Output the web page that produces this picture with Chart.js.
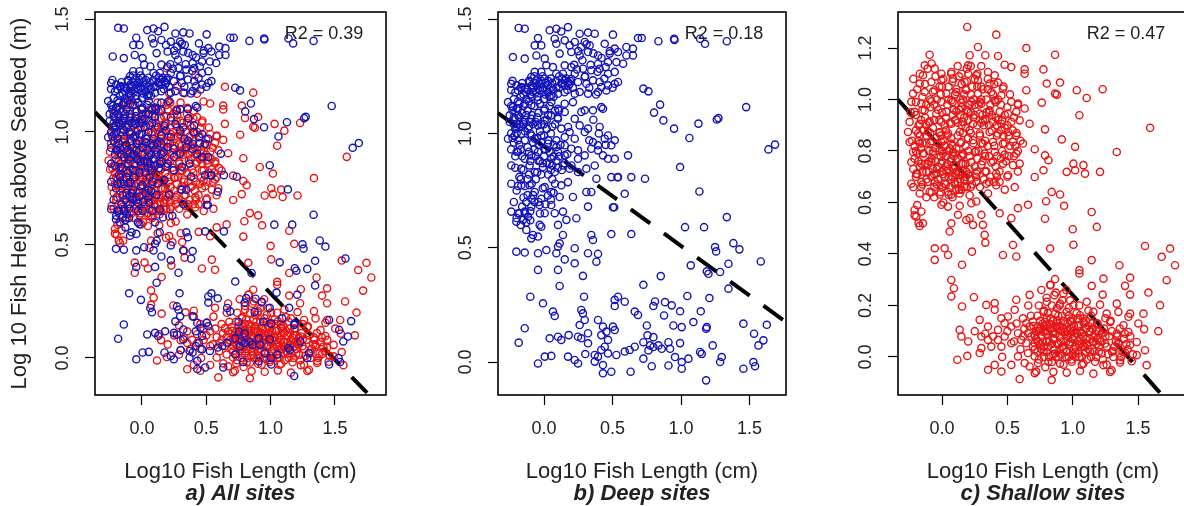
<!DOCTYPE html>
<html>
<head>
<meta charset="utf-8">
<script src="https://cdn.jsdelivr.net/npm/chart.js@4.4.1/dist/chart.umd.min.js"></script>
<style>
  html, body { margin: 0; padding: 0; background: #fff; }
  body { position: relative; width: 1184px; height: 506px; overflow: hidden; }
  .panel { position: absolute; top: 0; }
</style>
</head>
<body>
<canvas id="allChart" class="panel" width="400" height="506" style="left:0px"></canvas>
<canvas id="deepChart" class="panel" width="400" height="506" style="left:400px"></canvas>
<canvas id="shallowChart" class="panel" width="400" height="506" style="left:800px"></canvas>
<script>
// [log10 length, log10 height]
const deepSites = [
  [-0.185,1.461],[-0.141,1.458],[0.041,1.451],[0.09,1.458],[0.126,1.446],[0.175,1.465],[0.26,1.436],[0.321,1.441],[0.37,1.436],[0.503,1.432],[0.686,1.417],
  [-0.044,1.417],[0.078,1.414],[0.151,1.407],[0.224,1.40],[0.297,1.40],[-0.068,1.385],[-0.02,1.385],[0.09,1.392],[0.187,1.385],[0.272,1.378],[0.333,1.385],[0.443,1.392],[0.516,1.371],[0.601,1.378],[0.649,1.371],
  [-0.227,1.334],[-0.141,1.327],[-0.056,1.341],[0.005,1.327],[0.114,1.349],[0.199,1.356],[0.26,1.341],[0.321,1.356],[0.394,1.341],[0.479,1.349],[0.54,1.356],[0.601,1.341],[0.649,1.341],[0.577,1.305],[0.394,1.305],[0.467,1.312],[0.528,1.312],
  [0.017,1.298],[0.065,1.29],[0.151,1.298],[0.199,1.29],[0.284,1.283],[0.345,1.276],[0.406,1.283],[0.467,1.261],[0.516,1.269],[0.297,1.247],[0.224,1.261],[0.138,1.261],[0.09,1.261],[-0.068,1.269],[-0.02,1.269],[-0.093,1.247],
  [-0.105,1.225],[-0.056,1.232],[-0.032,1.217],[0.005,1.239],[-0.044,1.196],[-0.008,1.188],[0.029,1.21],[-0.081,1.181],[-0.129,1.196],[-0.166,1.203],[-0.19,1.188],[-0.239,1.217],[0.151,1.232],[0.175,1.225],[0.199,1.239],[0.187,1.217],[0.126,1.217],
  [0.248,1.225],[0.309,1.217],[0.357,1.232],[0.406,1.225],[0.467,1.21],[0.516,1.217],[0.54,1.225],[0.26,1.181],[0.321,1.174],[0.418,1.203],[0.455,1.188],[0.394,1.181],[0.102,1.174],[0.053,1.166],[0.224,1.174],
  [-0.263,1.137],[-0.227,1.115],[-0.19,1.108],[-0.141,1.13],[-0.093,1.123],[-0.044,1.145],[0.005,1.108],[0.053,1.137],[0.102,1.108],[0.151,1.13],[0.211,1.137],[0.297,1.101],[0.357,1.101],[0.418,1.115],[0.43,1.108],[0.272,1.094],
  [-0.251,1.079],[-0.214,1.064],[-0.153,1.05],[-0.093,1.064],[-0.044,1.035],[0.005,1.057],[0.053,1.079],[0.102,1.064],[0.151,1.094],[0.224,1.064],[0.26,1.035],[0.321,1.021],[0.406,1.028],[0.175,1.028],[0.126,1.021],[-0.202,1.028],[-0.117,1.021],
  [-0.263,0.977],[-0.214,0.991],[-0.166,0.999],[-0.068,0.977],[-0.02,0.991],[0.029,0.955],[0.09,0.97],[0.151,0.984],[0.187,1.006],[0.224,0.977],[0.297,1.006],[0.357,0.962],[0.394,0.948],[0.443,0.977],[0.467,0.991],[0.516,0.97],[0.491,0.948],
  [-0.19,0.919],[-0.141,0.889],[-0.093,0.904],[-0.044,0.919],[0.005,0.933],[0.053,0.889],[0.102,0.919],[0.151,0.904],[0.199,0.933],[0.248,0.889],[0.297,0.904],[0.345,0.933],[0.394,0.926],[0.43,0.904],[0.467,0.889],[0.516,0.889],[0.613,0.904],[0.248,0.926],[0.151,0.948],
  [-0.239,0.86],[-0.166,0.846],[-0.105,0.86],[-0.068,0.831],[-0.008,0.853],[0.041,0.868],[0.078,0.831],[0.138,0.86],[0.187,0.846],[0.248,0.831],[0.309,0.846],[0.37,0.86],[0.382,0.802],[0.491,0.809],[0.54,0.809],[0.637,0.809],
  [-0.239,0.78],[-0.166,0.773],[-0.105,0.773],[-0.068,0.744],[0.005,0.765],[0.053,0.744],[0.126,0.773],[0.175,0.787],[-0.093,0.714],[-0.02,0.714],[0.029,0.729],[0.114,0.722],[0.211,0.722],[0.309,0.744],[0.345,0.744],[0.589,0.736],[0.536,0.808],[0.512,0.677],
  [-0.12,1.19],[-0.09,1.21],[-0.06,1.18],[-0.02,1.23],[0.02,1.19],[0.06,1.22],[-0.15,1.17],[-0.17,1.16],[0.0,1.15],[0.04,1.16],[0.16,1.24],[0.18,1.21],[-0.22,1.07],[-0.18,1.04],[-0.2,1.0],[-0.14,1.01],[-0.1,1.05],[-0.05,0.98],[0.0,0.99],[0.02,1.02],[-0.03,0.88],[0.02,0.87],[0.07,0.9],[0.1,0.85],[0.12,0.95],[-0.12,0.8],[-0.15,0.72],[-0.18,0.65],[-0.13,0.61],[-0.1,0.66],[0.06,0.8],[0.08,0.78],[-0.2,0.92],[-0.24,1.0],
  [-0.24,1.19],[-0.22,1.15],[-0.2,1.21],[-0.18,1.13],[-0.16,1.22],[-0.14,1.2],[-0.13,1.15],[-0.11,1.23],[-0.1,1.17],[-0.08,1.2],[-0.07,1.25],[-0.05,1.21],[-0.03,1.19],[-0.01,1.25],[0.01,1.22],[0.03,1.18],[0.05,1.24],[0.07,1.19],[0.09,1.23],[0.11,1.2],[0.13,1.24],[0.15,1.21],[0.17,1.19],[0.19,1.23],[0.21,1.2],
  [-0.25,1.05],[-0.23,1.1],[-0.21,1.02],[-0.19,1.08],[-0.17,1.03],[-0.16,1.09],[-0.14,1.06],[-0.12,1.1],[-0.11,1.03],[-0.09,1.08],[-0.07,1.12],[-0.06,1.05],[-0.04,1.09],[-0.02,1.04],[0.0,1.1],[0.02,1.06],[0.04,1.12],[0.06,1.03],[0.08,1.1],[0.1,1.07],
  [-0.24,0.93],[-0.22,0.96],[-0.18,0.95],[-0.16,0.9],[-0.12,0.94],[-0.1,0.88],[-0.08,0.96],[-0.06,0.9],[-0.04,0.95],[-0.01,0.87],[0.01,0.93],[0.03,0.97],[0.05,0.84],[0.07,0.95],[0.09,0.88],[0.11,0.9],[0.13,0.84],[0.15,0.87],[0.17,0.91],[0.2,0.86],
  [-0.22,0.7],[-0.2,0.75],[-0.18,0.81],[-0.16,0.68],[-0.14,0.77],[-0.12,0.73],[-0.1,0.62],[-0.09,0.78],[-0.07,0.7],[-0.05,0.83],[-0.03,0.65],[-0.01,0.76],[0.01,0.69],[0.03,0.82],[0.05,0.71],[0.07,0.74],
  [-0.23,1.23],[-0.21,1.18],[-0.19,1.14],[-0.17,1.2],[-0.15,1.12],[-0.13,1.18],[-0.11,1.14],[-0.09,1.16],[-0.07,1.22],[-0.05,1.16],[-0.03,1.13],[-0.01,1.2],[0.01,1.17],[0.03,1.23],[0.05,1.2],[0.07,1.16],[0.09,1.2],[0.11,1.25],[0.13,1.22],[0.15,1.18],
  [-0.24,1.12],[-0.22,1.04],[-0.2,1.11],[-0.18,1.07],[-0.15,1.04],[-0.13,1.08],[-0.1,1.0],[-0.08,1.04],[-0.05,1.07],[-0.03,1.01],[0.0,1.04],[0.03,1.08],[0.05,1.0],[0.08,1.04],[0.11,1.1],
  [-0.23,0.98],[-0.21,0.9],[-0.19,0.97],[-0.17,0.93],[-0.14,0.97],[-0.11,0.92],[-0.09,0.99],[-0.07,0.93],[-0.04,0.88],[-0.02,0.96],[0.0,0.9],[0.04,0.92],[0.06,0.86],[0.09,0.94],
  [-0.21,0.85],[-0.19,0.77],[-0.17,0.8],[-0.15,0.84],[-0.13,0.7],[-0.11,0.82],[-0.08,0.73],[-0.06,0.8],[-0.04,0.7],[-0.02,0.82],[-0.2,0.63],[-0.17,0.6],[-0.14,0.65],
  [0.22,1.3],[0.25,1.36],[0.28,1.32],[0.31,1.39],[0.34,1.3],[0.36,1.35],[0.39,1.27],[0.42,1.33],[0.45,1.29],[0.48,1.36],[0.3,1.25],[0.24,1.28],[0.33,1.2],[0.38,1.17],[0.44,1.24],[0.5,1.2],[0.36,1.06],[0.4,1.0],[0.45,0.95],[0.33,0.97],
  [-0.239,0.658],[-0.19,0.651],[-0.141,0.658],[-0.153,0.622],[-0.202,0.614],[-0.117,0.636],[-0.093,0.68],[-0.032,0.687],[0.005,0.651],[-0.032,0.60],[0.053,0.687],[0.078,0.651],[0.138,0.658],[0.163,0.622],[0.236,0.629],[0.102,0.60],[-0.129,0.578],[-0.081,0.556],[-0.02,0.592],[-0.044,0.549],[-0.093,0.541],[0.321,0.68],[0.503,0.677],
  [0.345,0.556],[0.357,0.534],[0.491,0.56],[0.637,0.56],[0.138,0.556],[0.114,0.519],[0.102,0.505],[0.224,0.498],[0.321,0.476],[0.394,0.473],[0.382,0.439],
  [-0.202,0.483],[-0.141,0.479],[-0.044,0.476],[0.017,0.49],[0.09,0.476],[0.151,0.449],[0.224,0.432],[0.284,0.377],[-0.044,0.403],[0.102,0.403],[0.114,0.333],[0.292,0.286],
  [-0.10,0.286],[-0.008,0.257],[0.065,0.221],[0.078,0.202],[0.272,0.228],[0.284,0.213],[0.516,0.272],[0.54,0.286],[0.589,0.264],[0.516,0.245],[0.662,0.221],[0.686,0.206],
  [-0.141,0.148],[-0.185,0.085],[0.041,0.104],[0.102,0.111],[0.126,0.097],[0.18,0.118],[0.248,0.111],[0.272,0.104],[0.321,0.126],[0.321,0.082],[0.26,0.162],[0.297,0.184],[0.394,0.184],[0.43,0.155],[0.455,0.133],[0.503,0.155],[0.516,0.14],[0.418,0.118],[0.467,0.097],
  [-0.044,-0.006],[0.005,0.024],[0.053,0.027],[0.175,0.024],[0.224,0.009],[0.248,-0.006],[0.301,0.035],[0.37,0.031],[0.37,0.002],[0.394,0.024],[0.418,0.053],[0.443,0.067],[0.467,0.038],[0.528,0.031],[0.589,0.046],[0.625,0.053],[0.662,0.067],[0.43,-0.013],[0.491,-0.042],[0.43,-0.049],[0.632,-0.042],
  [0.713,1.417],[0.835,1.403],[0.949,1.414],[0.952,1.409],[1.139,1.414],[1.175,1.392],[1.334,1.403],
  [0.725,1.196],[0.762,1.184],
  [0.847,1.126],[0.803,1.091],[0.871,1.057],[0.949,1.021],[1.061,0.98],[1.127,1.043],[1.261,1.061],[1.273,1.067],[1.475,1.115],
  [1.638,0.93],[1.686,0.951],
  [0.737,0.802],[0.993,0.853],[1.134,0.746],
  [1.334,0.634],[1.029,0.59],[1.168,0.59],
  [1.248,0.503],[1.256,0.484],[1.382,0.52],[1.426,0.493],[1.346,0.43],[1.285,0.394],[1.188,0.397],[1.071,0.423],[1.2,0.386],[1.582,0.44],[0.852,0.376],
  [0.725,0.338],[1.207,0.28],[1.046,0.289],[1.346,0.321],
  [0.81,0.265],[0.883,0.262],[0.932,0.248],[0.798,0.245],[0.993,0.222],[1.144,0.222],[0.876,0.204],[1.09,0.175],[0.944,0.16],[1.005,0.153],[1.188,0.153],[1.183,0.146],[0.75,0.16],[1.455,0.168],[1.626,0.163],
  [0.755,0.117],[0.798,0.109],[0.725,0.087],[0.774,0.073],[0.798,0.066],[0.835,0.073],[0.859,0.058],[0.908,0.087],[0.92,0.058],[0.993,0.083],[0.762,0.051],[1.139,0.044],[1.151,0.036],[1.231,0.073],[1.533,0.124],[1.565,0.073],[1.601,0.095],[1.297,0.022],[1.285,0.0],[0.725,0.015],[0.786,-0.018],[0.908,-0.015],[0.956,0.022],[1.005,0.0],[1.054,0.015],[1.005,-0.029],[1.455,-0.029],[1.528,0.0],[1.54,-0.018],[1.183,-0.08]
];

// [log10 length, log10 height]
const shallowSites = [
  [0.193,1.282],[0.415,1.252],[0.645,1.2],[0.275,1.204],[0.331,1.172],[0.211,1.172],[0.428,1.169],[0.479,1.135],[0.53,1.126],[0.632,1.117],[0.632,1.1],[-0.095,1.174],[-0.133,1.133],[-0.056,1.12],[-0.146,1.094],[-0.005,1.1],[0.071,1.107],[0.148,1.1],[0.199,1.133],[0.262,1.094],[0.352,1.107],[0.403,1.094],[0.428,1.066],[0.466,1.042],[0.645,1.036],
  [-0.171,1.062],[-0.082,1.068],[-0.005,1.075],[0.084,1.081],[0.173,1.068],[0.275,1.075],[0.364,1.062],
  [-0.222,1.023],[-0.133,1.029],[-0.056,1.036],[0.033,1.023],[0.109,1.029],[0.186,1.036],[0.275,1.023],[0.377,1.029],[0.454,1.016],
  [-0.235,0.991],[-0.158,0.984],[-0.082,0.993],[-0.005,0.991],[0.071,0.997],[0.148,0.988],[0.224,0.991],[0.301,0.984],[0.403,0.997],[0.53,0.991],[0.581,0.984],
  [-0.21,0.952],[-0.133,0.958],[-0.044,0.945],[0.033,0.952],[0.109,0.954],[0.199,0.952],[0.288,0.945],[0.364,0.958],[0.441,0.952],[0.505,0.945],[0.568,0.952],[0.632,0.965],
  [-0.248,0.913],[-0.171,0.906],[-0.095,0.915],[-0.005,0.913],[0.071,0.906],[0.16,0.913],[0.237,0.906],[0.313,0.919],[0.39,0.913],[0.454,0.906],[0.53,0.913],[0.594,0.919],[0.67,0.906],
  [-0.26,0.874],[-0.184,0.868],[-0.107,0.877],[-0.018,0.874],[0.046,0.868],[0.135,0.874],[0.211,0.88],[0.288,0.868],[0.364,0.874],[0.428,0.868],[0.505,0.874],[0.568,0.861],
  [-0.248,0.835],[-0.171,0.829],[-0.082,0.838],[-0.005,0.833],[0.071,0.829],[0.148,0.835],[0.237,0.842],[0.313,0.829],[0.39,0.835],[0.466,0.829],[0.543,0.835],[0.619,0.829],[0.709,0.807],
  [-0.222,0.796],[-0.146,0.79],[-0.069,0.799],[0.007,0.79],[0.084,0.796],[0.16,0.786],[0.25,0.796],[0.326,0.79],[0.403,0.796],[0.479,0.786],[0.568,0.79],[0.594,0.751],
  [-0.235,0.757],[-0.158,0.751],[-0.082,0.757],[-0.005,0.751],[0.071,0.76],[0.148,0.751],[0.224,0.757],[0.301,0.747],[0.377,0.755],[0.466,0.751],[0.543,0.745],
  [-0.197,0.712],[-0.12,0.719],[-0.044,0.712],[0.033,0.721],[0.109,0.712],[0.186,0.719],[0.262,0.712],[0.339,0.721],[0.415,0.712],[0.505,0.706],
  [-0.235,0.673],[-0.158,0.68],[-0.056,0.68],[0.02,0.673],[0.097,0.68],[0.173,0.686],[0.262,0.68],[0.339,0.673],[0.415,0.667],[0.556,0.66],[0.709,0.699],
  [-0.171,0.635],[-0.095,0.641],[-0.018,0.631],[0.046,0.641],[0.135,0.635],[0.211,0.628],[0.352,0.635],
  [-0.1,0.8],[-0.05,0.76],[0.0,0.72],[0.05,0.7],[0.1,0.74],[-0.12,0.86],[-0.02,0.87],[0.08,0.82],[0.15,0.78],[0.18,0.7],[-0.15,0.72],[-0.2,0.8],[0.03,0.78],[-0.07,0.73],[0.12,0.68],[0.2,0.85],[0.25,0.74],[0.28,0.8],[0.35,0.82],[0.32,0.9],[0.42,0.78],[0.45,0.88],[0.22,0.95],[0.1,0.92],[0.0,0.95],[-0.18,0.9],[0.05,1.05],[0.15,1.06],[0.2,1.1],[0.3,1.05],
  [-0.23,0.84],[-0.21,0.77],[-0.19,0.71],[-0.17,0.86],[-0.16,0.66],[-0.14,0.79],[-0.13,0.93],[-0.12,0.69],[-0.11,0.75],[-0.09,0.83],[-0.08,0.64],[-0.07,0.89],[-0.06,0.71],[-0.05,0.81],[-0.04,0.67],[-0.03,0.74],[-0.02,0.92],[-0.01,0.78],[0.0,0.66],[0.01,0.84],[0.02,0.7],[0.03,0.88],[0.04,0.75],[0.05,0.63],[0.06,0.81],[0.07,0.69],[0.08,0.94],[0.09,0.73],[0.1,0.79],[0.11,0.65],[0.12,0.86],[0.13,0.72],[0.14,0.69],[0.15,0.9],[0.16,0.75],[0.17,0.66],[0.18,0.82],[0.19,0.96],[0.2,0.71],[0.21,0.78],[0.22,0.87],[0.23,0.67],[0.24,0.93],[0.26,0.8],[0.27,0.72],[0.28,0.98],[0.29,0.86],[0.31,0.76],[0.32,0.69],[0.33,0.84],[0.34,0.95],[0.36,0.78],[0.37,0.7],[0.38,0.88],[0.4,0.82],[0.41,0.74],[0.43,0.92],[0.44,0.68],[0.46,0.8],[0.47,0.86],[0.49,0.76],[0.5,0.9],[0.52,0.82],[0.55,0.78],[0.57,0.87],[0.6,0.84],
  [-0.22,0.73],[-0.2,0.88],[-0.18,0.76],[-0.15,0.83],[-0.1,0.91],[-0.08,0.77],[-0.03,0.83],[0.0,0.8],[0.04,0.86],[0.07,0.77],[0.11,0.81],[0.13,0.96],[0.16,1.0],[0.18,1.04],[0.22,1.02],[0.25,1.08],[0.1,1.02],[0.04,0.98],[-0.04,1.0],[-0.12,0.98],[-0.2,0.94],[0.3,1.0],[0.35,1.04],[0.4,1.06],[0.45,0.98],[0.48,0.94],[0.38,0.94],[0.27,0.9],[0.17,0.93],[0.06,0.91],
  [-0.22,0.66],[-0.2,0.7],[-0.19,0.79],[-0.17,0.74],[-0.16,0.81],[-0.15,0.67],[-0.13,0.75],[-0.12,0.83],[-0.11,0.68],[-0.1,0.72],[-0.09,0.87],[-0.08,0.7],[-0.07,0.79],[-0.06,0.66],[-0.05,0.85],[-0.04,0.73],[-0.03,0.69],[-0.02,0.8],[-0.01,0.64],[0.0,0.76],[0.01,0.71],[0.02,0.82],[0.03,0.67],[0.04,0.8],[0.05,0.73],[0.06,0.66],[0.07,0.85],[0.08,0.7],[0.09,0.78],[0.1,0.67],[0.11,0.72],[0.12,0.77],[0.13,0.65],[0.14,0.83],[0.15,0.71],[0.16,0.79],[0.17,0.69],[0.18,0.75],[0.19,0.66],[0.2,0.8],[0.21,0.73],[0.22,0.69],
  [-0.21,0.82],[-0.18,0.84],[-0.14,0.88],[-0.1,0.76],[-0.06,0.92],[-0.01,0.86],[0.03,0.74],[0.07,0.63],[0.12,0.91],[0.16,0.87],[0.2,0.92],[0.24,0.83],[0.27,0.77],[0.3,0.83],[0.33,0.78],[0.36,0.9],[0.39,0.76],[0.42,0.86],[0.45,0.77],[0.48,0.83],[0.51,0.78],[0.54,0.88],[0.56,0.82],[0.46,0.92],[0.31,0.94],[0.25,0.98],[0.14,1.0],[0.08,1.07],[-0.02,1.05],[-0.09,1.0],[-0.15,0.96],[0.19,1.07],[0.27,1.05],[0.34,1.0],[0.41,0.99],[0.51,0.86],[0.58,0.8],[0.42,0.7],[0.33,0.72],[0.26,0.7],
  [-0.22,1.08],[-0.19,1.04],[-0.17,1.1],[-0.15,1.01],[-0.13,1.06],[-0.11,1.12],[-0.09,0.97],[-0.07,1.03],[-0.05,1.09],[-0.03,0.96],[-0.01,1.02],[0.01,1.08],[0.03,0.93],[0.05,1.0],[0.07,1.1],[0.09,0.96],[0.11,1.04],[0.13,1.09],[0.15,0.97],[0.17,1.02],[0.19,1.12],[0.21,0.98],[0.23,1.05],[0.25,0.94],[0.27,1.1],[0.29,0.99],[0.31,1.04],[0.33,0.92],[0.35,1.08],[0.37,0.98],[0.39,1.02],[0.41,0.93],[0.43,1.0],[0.47,1.05],[0.5,0.97],[0.52,1.02],[0.55,0.93],[0.58,0.98],
  [-0.24,0.95],[-0.2,0.99],[-0.16,0.92],[-0.12,0.9],[-0.06,0.98],[0.02,0.9],[0.08,0.99],[0.14,0.94],[0.18,0.89],[0.24,1.0],[0.3,0.91],[0.36,0.95],[0.42,0.9],[0.48,0.89],[0.0,1.05],[0.12,1.13],[0.22,1.13],[-0.08,1.14],[0.3,1.13],
  [-0.19,0.59],[-0.12,0.62],[-0.06,0.62],[0.01,0.6],[0.08,0.62],[0.15,0.65],[0.22,0.66],[0.29,0.66],[0.36,0.68],[0.44,0.72],[0.5,0.7],[0.58,0.72],[-0.21,0.55],[-0.18,0.52],[0.4,0.68],[0.48,0.65],
  [-0.21,0.571],[-0.158,0.565],[-0.197,0.545],[-0.146,0.519],[-0.171,0.509],[-0.005,0.591],[0.046,0.584],[0.135,0.587],[0.224,0.597],[0.262,0.604],[0.122,0.552],[0.071,0.519],[0.058,0.487],[0.186,0.532],[0.211,0.539],[0.237,0.513],[0.301,0.552],[0.313,0.513],[0.326,0.474],[0.331,0.444],[0.441,0.558],[0.53,0.539],[0.581,0.578],[0.658,0.591],
  [-0.056,0.422],[0.02,0.422],[0.046,0.396],[-0.056,0.377],[0.153,0.358],[0.229,0.409],[0.466,0.396],[0.568,0.39],[0.543,0.435],
  [0.071,0.299],[0.091,0.267],[0.071,0.235],[0.244,0.232],[0.153,0.196],[0.339,0.202],[0.403,0.209],[0.403,0.183],[0.568,0.222],[0.67,0.241],
  [0.135,0.105],[0.148,0.079],[0.288,0.144],[0.352,0.118],[0.301,0.079],[0.352,0.066],[0.428,0.105],[0.454,0.15],[0.505,0.157],[0.479,0.131],[0.556,0.183],[0.53,0.118],[0.619,0.15],[0.581,0.092],[0.428,0.066],[0.479,0.079],[0.377,0.04],[0.301,0.034],[0.288,0.015],[0.454,0.04],[0.53,0.053],[0.607,0.066],[0.67,0.118],[0.683,0.079],[0.709,0.053],
  [0.117,-0.011],[0.193,0.004],[0.352,-0.05],[0.403,-0.031],[0.454,-0.057],[0.53,-0.031],[0.581,0.002],[0.632,-0.024],[0.709,-0.063],[0.594,-0.086],
  [0.645,0.131],[0.696,0.137],[0.734,0.118],[0.658,0.092],[0.709,0.086],[0.645,0.053],[0.696,0.04],[0.734,0.06],[0.658,0.015],[0.709,0.002],[0.734,-0.024],[0.67,-0.037],[0.721,-0.057],
  [0.865,1.174],[0.776,1.117],[0.801,1.062],[0.903,1.066],[0.865,1.023],[0.878,1.019],[1.031,1.036],[1.107,1.006],[1.229,1.04],[0.763,0.988],[1.051,0.939],[1.592,0.89],[0.788,0.884],[0.916,0.845],[1.018,0.816],[1.337,0.796],[0.788,0.783],[0.814,0.764],[0.776,0.725],[0.954,0.719],[1.005,0.751],[1.018,0.725],[1.082,0.745],[1.094,0.712],[1.209,0.719],
  [0.839,0.641],[0.903,0.631],[0.796,0.605],[0.934,0.587],[0.788,0.537],[1.145,0.563],[1.184,0.505],[1.0,0.496],[1.005,0.436],[0.827,0.421],[1.553,0.431],[1.681,0.389],[1.745,0.421],[1.783,0.356],[1.719,0.298],[1.145,0.376],[1.357,0.356],[1.051,0.337],[1.051,0.324],[1.439,0.308],[1.235,0.304],[1.145,0.276],[1.4,0.276],[0.865,0.302],[0.827,0.279],
  [0.929,0.246],[1.229,0.242],[1.337,0.207],[1.439,0.242],[1.579,0.25],[1.668,0.201],[1.439,0.168],[1.426,0.156],[1.541,0.168],[1.655,0.1],[1.546,0.108],[1.502,0.13],[1.49,0.058],[1.553,0.026],[1.566,-0.032],[0.839,-0.09],[1.235,-0.032],[1.298,-0.052],[1.362,-0.013],
  [0.801,0.214],[0.903,0.207],[1.005,0.201],[1.107,0.214],[1.209,0.203],
  [0.776,0.175],[0.865,0.168],[0.954,0.175],[1.056,0.162],[1.158,0.175],[1.26,0.168],[1.349,0.175],
  [0.788,0.136],[0.878,0.13],[0.98,0.139],[1.082,0.134],[1.184,0.13],[1.286,0.136],[1.388,0.123],
  [0.776,0.097],[0.852,0.091],[0.941,0.097],[1.031,0.091],[1.133,0.1],[1.235,0.095],[1.337,0.091],[1.426,0.097],
  [0.801,0.058],[0.89,0.052],[0.98,0.058],[1.069,0.052],[1.158,0.058],[1.247,0.052],[1.349,0.058],[1.439,0.046],
  [0.776,0.02],[0.865,0.013],[0.954,0.02],[1.043,0.013],[1.133,0.02],[1.222,0.013],[1.311,0.022],[1.4,0.017],[1.49,0.007],
  [0.814,-0.019],[0.903,-0.026],[0.992,-0.019],[1.082,-0.026],[1.171,-0.019],[1.26,-0.03],[1.362,-0.022],[1.451,-0.017],
  [0.852,-0.058],[0.954,-0.061],[1.056,-0.055],[1.158,-0.065],[1.286,-0.058],
  [0.72,0.1],[0.75,0.05],[0.8,0.12],[0.82,0.0],[0.85,0.07],[0.88,0.11],[0.9,0.03],[0.93,0.14],[0.95,0.06],[0.97,0.0],[1.0,0.1],[1.02,0.04],[1.05,0.12],[1.07,0.0],[1.1,0.07],[1.12,0.03],[1.15,0.13],[1.18,0.05],
  [0.78,0.18],[0.86,0.24],[0.9,0.2],[0.95,0.26],[0.83,0.28],[0.74,0.2],[1.0,0.15],[1.2,0.1],[1.25,0.15],[1.3,0.02],[1.35,0.05],[1.4,0.09],[0.68,0.16],[0.62,0.08],[0.66,0.2],
  [0.7,0.12],[0.71,0.03],[0.73,0.16],[0.74,-0.01],[0.76,0.08],[0.77,0.13],[0.78,0.04],[0.79,-0.04],[0.8,0.09],[0.81,0.17],[0.82,0.06],[0.83,0.11],[0.84,-0.02],[0.85,0.14],[0.86,0.03],[0.87,0.09],[0.88,0.19],[0.89,0.0],[0.9,0.12],[0.91,0.06],[0.92,0.16],[0.93,-0.03],[0.94,0.09],[0.95,0.02],[0.96,0.13],[0.97,0.05],[0.98,0.22],[0.99,-0.01],[1.0,0.07],[1.01,0.12],[1.02,0.0],[1.03,0.17],[1.04,0.06],[1.06,0.1],[1.07,-0.03],[1.08,0.15],[1.09,0.04],[1.1,0.11],[1.11,-0.01],[1.13,0.07],[1.14,0.16],[1.16,0.02],[1.17,0.09],[1.19,0.13],[1.21,0.06],[1.23,-0.01],[1.24,0.11],[1.26,0.04],[1.28,0.08],[1.29,0.14],[1.31,0.0],[1.33,0.06],[1.36,0.11],[1.38,0.02],[1.41,0.05],[1.44,0.08],[1.46,0.01],
  [0.72,0.07],[0.75,0.11],[0.78,0.0],[0.81,0.04],[0.83,0.15],[0.86,0.07],[0.88,0.05],[0.91,0.1],[0.93,0.03],[0.96,0.08],[0.98,0.11],[1.01,0.03],[1.03,0.09],[1.05,0.05],[1.08,0.08],[1.1,0.02],[1.12,0.12],[1.15,0.06],[1.18,0.0],[1.2,0.04],[1.22,0.09],[0.84,0.2],[0.87,0.25],[0.92,0.22],[0.8,0.23],[0.76,0.26],[0.97,0.19],[1.05,0.2],[1.12,0.18],[0.63,0.11],[0.6,0.03],[0.57,0.13],[0.55,0.06],[0.5,0.1],[0.46,0.0],[0.39,0.08],[0.33,0.09],[0.25,0.1],[0.2,0.06],
  [0.71,0.08],[0.73,0.02],[0.75,0.14],[0.77,0.06],[0.79,0.1],[0.8,0.02],[0.82,0.13],[0.84,0.05],[0.85,0.1],[0.87,0.0],[0.88,0.14],[0.9,0.08],[0.92,0.04],[0.93,0.11],[0.95,0.0],[0.96,0.1],[0.98,0.05],[0.99,0.14],[1.01,0.08],[1.02,0.02],[1.04,0.12],[1.05,0.0],[1.07,0.09],[1.08,0.04],[1.1,0.14],[1.11,0.05],[1.13,0.1],[1.14,0.0],[1.16,0.08],[1.18,0.1],[1.2,0.02],[1.22,0.06],[1.25,0.08],[1.27,0.01],[1.3,0.1],[1.32,0.04],[1.34,0.08],[1.37,0.0],[1.39,0.07],[1.42,0.03],
  [0.76,0.03],[0.8,0.15],[0.85,0.01],[0.89,0.16],[0.94,0.13],[0.97,0.16],[1.0,0.01],[1.04,0.15],[1.09,0.13],[1.15,0.11],[1.19,0.07],[0.81,0.1],[0.87,0.12],[0.91,0.01],[0.99,0.09],[1.06,0.07],[0.74,0.1],[0.78,0.12]
];

// dashed fit lines: two points on each line, read from where it meets the frame
const fitAll = [[-0.365, 1.088], [1.75, -0.155]];
const fitDeep = [[-0.336, 1.089], [1.766, 0.175]];
const fitShallow = [[-0.337, 1.0], [1.683, -0.148]];

const xTicks = [0, 0.5, 1.0, 1.5];
const yTicksHigh = [0, 0.5, 1.0, 1.5];
const yTicksShallow = [0, 0.2, 0.4, 0.6, 0.8, 1.0, 1.2];
const r2Labels = ['R2 = 0.39', 'R2 = 0.18', 'R2 = 0.47'];
const panelTitles = ['a) All sites', 'b) Deep sites', 'c) Shallow sites'];
const xTitle = 'Log10 Fish Length (cm)';
const yTitle = 'Log 10 Fish Height above Seabed (m)';

const FONT = '"Liberation Sans", Arial, Helvetica, sans-serif';
const BLUE = '#1414bb';
const RED = '#e81414';
const TEXT = '#222';

function toPoints(pairs) {
  return pairs.map(p => ({ x: p[0], y: p[1] }));
}

function scatterSet(pairs, color) {
  return {
    type: 'scatter',
    data: toPoints(pairs),
    borderColor: color,
    backgroundColor: 'rgba(0,0,0,0)',
    pointRadius: 3.6,
    pointHoverRadius: 3.6,
    pointBorderWidth: 1.4
  };
}

function fitSet(pairs) {
  return {
    type: 'line',
    data: toPoints(pairs),
    borderColor: '#000',
    borderWidth: 4,
    borderDash: [24, 17],
    pointRadius: 0,
    fill: false
  };
}

// frame, rotated y tick labels and the panel texts (R style)
const panelText = {
  id: 'panelText',
  afterDraw(chart, args, opts) {
    const { ctx, chartArea: a, scales } = chart;
    const cx = (a.left + a.right) / 2;
    ctx.save();
    ctx.strokeStyle = '#000';
    ctx.lineWidth = 1.6;
    ctx.strokeRect(a.left, a.top, a.right - a.left, a.bottom - a.top);

    ctx.fillStyle = TEXT;
    ctx.textAlign = 'center';
    ctx.textBaseline = 'middle';
    ctx.font = '18px ' + FONT;
    opts.yTicks.forEach(v => {
      const y = scales.y.getPixelForValue(v);
      ctx.save();
      ctx.translate(a.left - 32, y);
      ctx.rotate(-Math.PI / 2);
      ctx.fillText(v.toFixed(1), 0, 0);
      ctx.restore();
    });

    ctx.fillText(opts.r2, a.right - 62, 34);

    ctx.font = '22px ' + FONT;
    ctx.fillText(xTitle, cx, 472);
    ctx.font = 'italic bold 22px ' + FONT;
    ctx.fillText(opts.title, cx, 494);

    if (opts.yTitle) {
      ctx.font = '22px ' + FONT;
      ctx.save();
      ctx.translate(20, (a.top + a.bottom) / 2);
      ctx.rotate(-Math.PI / 2);
      ctx.fillText(opts.yTitle, 0, 0);
      ctx.restore();
    }
    ctx.restore();
  }
};

function makePanel(id, datasets, p) {
  const tickGrid = { display: true, drawOnChartArea: false, drawTicks: true, tickLength: 10, tickColor: '#000', tickWidth: 1.2 };
  new Chart(document.getElementById(id), {
    type: 'scatter',
    data: { datasets: datasets },
    plugins: [panelText],
    options: {
      responsive: false,
      animation: false,
      events: [],
      layout: { padding: { top: 12, right: p.rightPad, left: 0, bottom: 0 } },
      plugins: {
        legend: { display: false },
        tooltip: { enabled: false },
        panelText: { yTicks: p.yTicks, r2: p.r2, title: p.title, yTitle: p.yTitle }
      },
      scales: {
        x: {
          type: 'linear', min: p.xMin, max: p.xMax,
          afterBuildTicks: s => { s.ticks = xTicks.map(v => ({ value: v })); },
          afterFit: s => { s.height = 111; },
          grid: tickGrid,
          border: { display: false },
          ticks: { autoSkip: false, maxRotation: 0, padding: 13, color: TEXT, font: { family: FONT, size: 18 }, callback: v => v.toFixed(1) }
        },
        y: {
          type: 'linear', min: p.yMin, max: p.yMax,
          afterBuildTicks: s => { s.ticks = p.yTicks.map(v => ({ value: v })); },
          afterFit: s => { s.width = p.left; },
          grid: tickGrid,
          border: { display: false },
          ticks: { display: false }
        }
      }
    }
  });
}

makePanel('allChart',
  [scatterSet(deepSites, BLUE), scatterSet(shallowSites, RED), fitSet(fitAll)],
  { xMin: -0.365, xMax: 1.897, yMin: -0.164, yMax: 1.531, yTicks: yTicksHigh, left: 95, rightPad: 14,
    r2: r2Labels[0], title: panelTitles[0], yTitle: yTitle });

makePanel('deepChart',
  [scatterSet(deepSites, BLUE), fitSet(fitDeep)],
  { xMin: -0.336, xMax: 1.766, yMin: -0.144, yMax: 1.531, yTicks: yTicksHigh, left: 98, rightPad: 14,
    r2: r2Labels[1], title: panelTitles[1] });

makePanel('shallowChart',
  [scatterSet(shallowSites, RED), fitSet(fitShallow)],
  { xMin: -0.337, xMax: 1.882, yMin: -0.148, yMax: 1.34, yTicks: yTicksShallow, left: 98, rightPad: 12,
    r2: r2Labels[2], title: panelTitles[2] });
</script>
</body>
</html>
